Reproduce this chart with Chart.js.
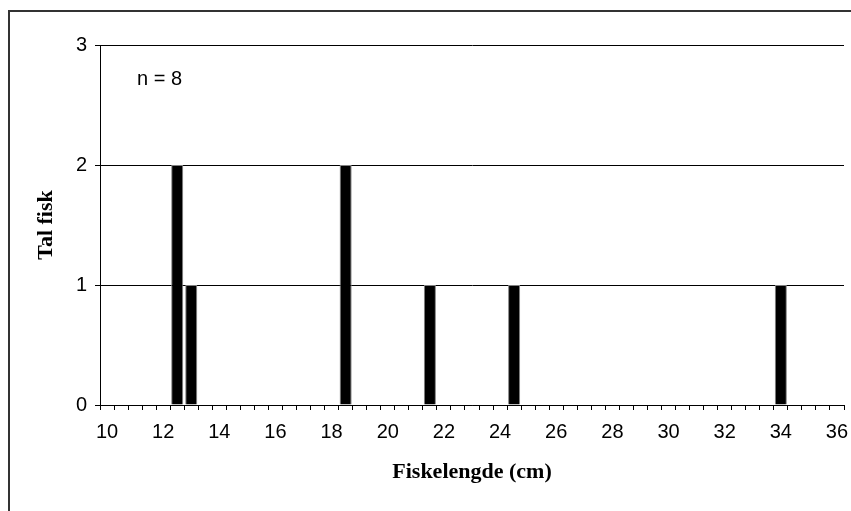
<!DOCTYPE html>
<html>
<head>
<meta charset="utf-8">
<script src="https://cdn.jsdelivr.net/npm/chart.js@4"></script>
<style>
  html, body { margin: 0; padding: 0; background: #fff; }
  #wrap { position: relative; width: 851px; height: 511px; }
  #frame { position: absolute; left: 8px; top: 10px; right: 0; bottom: 0;
           border-left: 2px solid #333; border-top: 2px solid #333; }
  canvas { position: absolute; left: 0; top: 0; }
</style>
</head>
<body>
<div id="wrap">
  <div id="frame"></div>
  <canvas id="graph" width="851" height="511"></canvas>
</div>
<script>
// fish length classes (cm), one bar slot each
const lengths = ["10","10.5","11","11.5","12","12.5","13","13.5","14","14.5",
  "15","15.5","16","16.5","17","17.5","18","18.5","19","19.5",
  "20","20.5","21","21.5","22","22.5","23","23.5","24","24.5",
  "25","25.5","26","26.5","27","27.5","28","28.5","29","29.5",
  "30","30.5","31","31.5","32","32.5","33","33.5","34","34.5",
  "35","35.5","36"];
// number of fish in each class
const antal = [0,0,0,0,0,2,1,0,0,0,
  0,0,0,0,0,0,0,2,0,0,
  0,0,0,1,0,0,0,0,0,1,
  0,0,0,0,0,0,0,0,0,0,
  0,0,0,0,0,0,0,0,1,0,
  0,0,0];
const shownLabels = ["10","12","14","16","18","20","22","24","26","28","30","32","34","36"];
const yTicks = [0, 1, 2, 3];
const note = "n = 8";

const noteText = {
  id: "noteText",
  afterDraw(chart) {
    const ctx = chart.ctx;
    ctx.save();
    ctx.font = "20px 'Liberation Sans', Arial, sans-serif";
    ctx.fillStyle = "#000";
    ctx.textBaseline = "middle";
    ctx.fillText(note, chart.chartArea.left + 37, chart.chartArea.top + 34);
    ctx.restore();
  }
};

const graph = document.getElementById("graph").getContext("2d");
const myChart = new Chart(graph, {
  type: "bar",
  data: {
    labels: lengths,
    datasets: [{
      label: "Tal fisk",
      data: antal,
      backgroundColor: "#000",
      borderColor: "#808080",
      borderWidth: 1,
      barPercentage: 0.86,
      categoryPercentage: 1
    }]
  },
  options: {
    responsive: false,
    animation: false,
    layout: { padding: { left: 0, top: 45, right: 7, bottom: 0 } },
    plugins: {
      legend: { display: false },
      tooltip: { enabled: false }
    },
    scales: {
      x: {
        offset: true,
        grid: { offset: true, drawOnChartArea: false, drawTicks: true, tickLength: 5, color: "#000" },
        border: { color: "#000", width: 1 },
        ticks: {
          autoSkip: false,
          maxRotation: 0,
          padding: 10,
          color: "#000",
          font: { family: "'Liberation Sans', Arial, sans-serif", size: 20 },
          callback: function(value, index) {
            const lab = this.getLabelForValue(value);
            return shownLabels.includes(lab) ? lab : "";
          }
        },
        title: {
          display: true,
          text: "Fiskelengde (cm)",
          color: "#000",
          font: { family: "'Liberation Serif', 'Times New Roman', serif", size: 22, weight: "bold" },
          padding: { top: 0, bottom: 25 }
        },
        afterFit(scale) {
          scale.height = 106;
          scale.paddingLeft = 0;
          scale.paddingRight = 0;
        }
      },
      y: {
        min: 0,
        max: 3,
        afterBuildTicks(scale) { scale.ticks = yTicks.map(v => ({ value: v })); },
        grid: { color: "#000", lineWidth: 1, tickLength: 5 },
        border: { color: "#000", width: 1 },
        ticks: {
          padding: 8,
          color: "#000",
          font: { family: "'Liberation Sans', Arial, sans-serif", size: 20 }
        },
        title: {
          display: true,
          text: "Tal fisk",
          color: "#000",
          font: { family: "'Liberation Serif', 'Times New Roman', serif", size: 22, weight: "bold" },
          padding: { top: 33, bottom: 0 }
        },
        afterFit(scale) { scale.width = 100; }
      }
    }
  },
  plugins: [noteText]
});
</script>
</body>
</html>
